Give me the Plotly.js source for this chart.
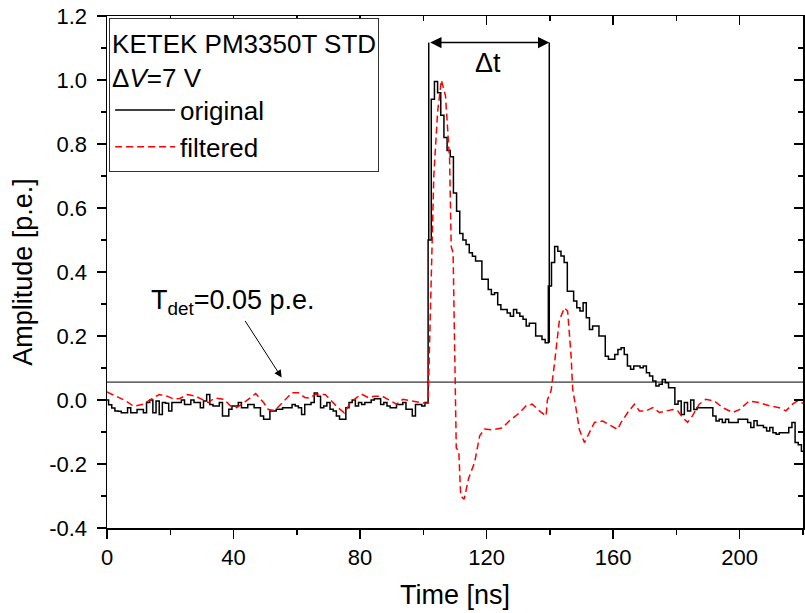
<!DOCTYPE html>
<html>
<head>
<meta charset="utf-8">
<script src="https://cdn.plot.ly/plotly-3.0.1.min.js"></script>
<style>html,body{margin:0;padding:0;background:#fff;}#chart{width:805px;height:613px;}</style>
</head>
<body>
<div id="chart"></div>
<script>
// ---- data ----
// original signal: one sample per ns, starting at 0 ns
const originalStart = 0;
const originalStep = 1;
const originalAmplitude = [
  0.0, -0.015, -0.025, -0.034, -0.035, -0.04, -0.04, -0.024, -0.04, -0.04,
  -0.03, -0.03, -0.04, -0.008, 0.0, -0.04, -0.003, -0.045, -0.008, -0.01,
  -0.034, -0.008, -0.008, -0.008, 0.0, -0.014, -0.014, 0.0, -0.008, -0.008,
  -0.024, -0.003, 0.017, -0.014, -0.019, -0.019, -0.008, -0.05, -0.05, -0.029,
  -0.019, -0.019, -0.008, -0.024, -0.024, -0.014, -0.014, -0.024, -0.024, -0.05,
  -0.06,
  -0.06, -0.034, -0.034, -0.029, -0.029, -0.024, -0.024, -0.024, -0.014, -0.019,
  -0.024, -0.045, -0.014, -0.014, -0.008, 0.022, 0.012, -0.024, -0.019, -0.008,
  -0.029, -0.034, -0.05, -0.06, -0.06, -0.024, -0.008, 0.0, -0.019, -0.008,
  -0.014, -0.008, -0.008, 0.0, 0.004, 0.004, -0.014, -0.008, -0.019, -0.024,
  -0.024, -0.014, -0.014, -0.008, -0.029, -0.029, -0.05, -0.014, -0.014, -0.019,
  -0.008,
  0.50, 0.94, 0.995, 0.96, 0.89, 0.82, 0.78, 0.76,
  0.647, 0.59, 0.52, 0.50, 0.486, 0.46, 0.449, 0.434, 0.434, 0.377,
  0.377, 0.345, 0.33, 0.335, 0.298, 0.283, 0.283, 0.272, 0.262, 0.283,
  0.272, 0.262, 0.252, 0.231, 0.24, 0.24, 0.2, 0.2, 0.189, 0.179,
  0.356, 0.43, 0.48, 0.465, 0.45, 0.43,
  0.34, 0.34, 0.309, 0.288, 0.278, 0.304, 0.257, 0.22, 0.231, 0.231,
  0.2, 0.2, 0.137, 0.127, 0.127, 0.142, 0.158, 0.163, 0.142, 0.106,
  0.096, 0.106, 0.106, 0.101, 0.106, 0.085, 0.075, 0.059, 0.044, 0.049,
  0.064, 0.054, 0.038, 0.038, -0.013, -0.003, -0.045, -0.008, -0.034, 0.0,
  -0.03, -0.024, -0.024, -0.024, -0.024, -0.024, -0.05, -0.066, -0.06, -0.07,
  -0.06, -0.07, -0.07, -0.07, -0.06, -0.06, -0.06, -0.07, -0.086, -0.065,
  -0.08, -0.08, -0.086, -0.097, -0.086, -0.102, -0.107, -0.102, -0.102, -0.102,
  -0.086, -0.07, -0.133, -0.14, -0.16
];

// filtered signal
const filteredTime = [
  0, 3, 6, 8.5, 11.5, 14, 16.5, 19, 21, 23, 25.5, 28, 30, 32, 34, 37, 39, 41, 44, 47,
  49.5, 51, 53, 56, 58.5, 60.5, 62.5, 64, 66, 69, 71, 73, 75, 77, 79, 80.5, 82.5, 84.5, 87, 89.5,
  91.5, 93.5, 96, 98.5, 100.5, 101.5, 102.3, 103.3, 104.5, 105.7, 107, 108.3, 108.8, 109.4,
  110.4, 111.2, 111.8, 112.9, 114.3, 116.2, 117.8, 119.3, 122, 125, 127.2, 130.4, 132.5, 134.4,
  136.7, 138.8, 139.2, 140.4, 141.4, 143, 144.6, 145.6, 146.7, 147.2, 148.3, 149.3, 150.9,
  152.5, 154.1, 156.7, 159.3, 161.4, 162.5, 164.6, 166.7, 168.3, 170.4, 172.5, 174.6, 176.7,
  178.8, 180.4, 182, 183.5, 185.1, 187.2, 189.3, 192, 194.6, 197.8, 199.9, 203, 206.2, 209.3,
  212.5, 214.6, 216.7, 218.3, 220
];
const filteredAmplitude = [
  0.025, 0.01, -0.003, -0.02, -0.013, 0.003, 0.017, 0.012, 0.003, 0.005, 0.017, 0.012, 0.003, -0.008, 0.006, 0.002, -0.018, -0.024, -0.003, 0.02,
  -0.008, -0.03, -0.033, -0.003, 0.023, 0.023, 0.008, 0.006, 0.018, 0.017, -0.003, -0.024, -0.04, -0.008, 0.008, 0.018, 0.008, 0.012, 0.012, -0.003,
  -0.013, 0.002, -0.003, -0.008, -0.01, -0.01, 0.3, 0.7, 0.9, 1.0, 0.95, 0.75, 0.48, 0.46,
  -0.15, -0.16, -0.30, -0.31, -0.245, -0.195, -0.112, -0.091, -0.093, -0.087, -0.065, -0.04, -0.018, -0.013,
  -0.034, -0.05, 0.0, 0.03, 0.11, 0.25, 0.288, 0.278, 0.137, 0.033, -0.029, -0.092, -0.133,
  -0.102, -0.07, -0.066, -0.081, -0.092, -0.07, -0.039, -0.013, -0.034, -0.034, -0.024, -0.039, -0.034,
  -0.03, -0.034, -0.055, -0.07, -0.049, -0.013, 0.002, -0.003, -0.024, -0.039, -0.03, -0.003, -0.008, -0.018,
  -0.024, -0.034, -0.013, -0.003, -0.01
];

const detectionThreshold = 0.056;
const timeRange = [0, 220];
const amplitudeRange = [-0.4, 1.2];
const xTickVals = [0, 40, 80, 120, 160, 200];
const xTickText = ['0', '40', '80', '120', '160', '200'];
const xMinorVals = [20, 60, 100, 140, 180, 220];
const yTickVals = [-0.4, -0.2, 0.0, 0.2, 0.4, 0.6, 0.8, 1.0, 1.2];
const yTickText = ['-0.4', '-0.2', '0.0', '0.2', '0.4', '0.6', '0.8', '1.0', '1.2'];
const yMinorVals = [-0.3, -0.1, 0.1, 0.3, 0.5, 0.7, 0.9, 1.1];

// Δt marker
const dtStart = 101.7;
const dtEnd = 139.8;
const dtLevel = 1.117;
const dtLeftFoot = 0.5;
const dtRightFoot = 0.179;

const originalTime = originalAmplitude.map((_, i) => originalStart + i * originalStep);

const FONT = 'Liberation Sans, Arial, Helvetica, sans-serif';

const traces = [
  {
    x: timeRange, y: [detectionThreshold, detectionThreshold],
    mode: 'lines', line: {color: '#000', width: 1}, showlegend: false, hoverinfo: 'skip'
  },
  {
    x: originalTime, y: originalAmplitude, name: 'original',
    mode: 'lines', line: {color: '#000', width: 1.5, shape: 'hvh'}
  },
  {
    x: filteredTime, y: filteredAmplitude, name: 'filtered',
    mode: 'lines', line: {color: '#ff0000', width: 1.5, dash: '7px,4px'}
  },
  {x: [], y: [], xaxis: 'x2', yaxis: 'y2', showlegend: false, hoverinfo: 'skip'}
];

const axisCommon = {
  showgrid: false, zeroline: false, showline: true, linecolor: '#000', linewidth: 1.5,
  tickcolor: '#000', tickwidth: 1.5, tickfont: {family: FONT, size: 22, color: '#000'}
};

const layout = {
  width: 805, height: 613,
  margin: {l: 107, r: 2, t: 16, b: 85},
  paper_bgcolor: '#fff', plot_bgcolor: '#fff',
  font: {family: FONT, color: '#000'},
  xaxis: Object.assign({}, axisCommon, {
    range: timeRange, tickmode: 'array', tickvals: xTickVals, ticktext: xTickText,
    ticks: 'outside', ticklen: 9, mirror: true,
    minor: {tickmode: 'array', tickvals: xMinorVals, ticks: 'outside', ticklen: 5, tickwidth: 1.5, tickcolor: '#000'},
    title: {text: 'Time [ns]', font: {family: FONT, size: 27, color: '#000'}, standoff: 16}
  }),
  yaxis: Object.assign({}, axisCommon, {
    range: amplitudeRange, tickmode: 'array', tickvals: yTickVals, ticktext: yTickText,
    ticks: 'outside', ticklen: 9, mirror: true, ticklabelstandoff: 5,
    minor: {tickmode: 'array', tickvals: yMinorVals, ticks: 'outside', ticklen: 5, tickwidth: 1.5, tickcolor: '#000'},
    title: {text: 'Amplitude [p.e.]', font: {family: FONT, size: 27, color: '#000'}, standoff: 8}
  }),
  xaxis2: {
    overlaying: 'x', side: 'top', anchor: 'y', range: timeRange,
    showgrid: false, zeroline: false, showline: false, showticklabels: false,
    tickmode: 'array', tickvals: xTickVals, ticks: 'inside', ticklen: 9, tickwidth: 1.5, tickcolor: '#000',
    minor: {tickmode: 'array', tickvals: xMinorVals, ticks: 'inside', ticklen: 5, tickwidth: 1.5, tickcolor: '#000'}
  },
  yaxis2: {
    overlaying: 'y', side: 'right', anchor: 'x', range: amplitudeRange,
    showgrid: false, zeroline: false, showline: false, showticklabels: false,
    tickmode: 'array', tickvals: yTickVals, ticks: 'inside', ticklen: 9, tickwidth: 1.5, tickcolor: '#000',
    minor: {tickmode: 'array', tickvals: yMinorVals, ticks: 'inside', ticklen: 5, tickwidth: 1.5, tickcolor: '#000'}
  },
  showlegend: true,
  legend: {
    x: 0.003, y: 0.996, xanchor: 'left', yanchor: 'top',
    bgcolor: '#fff', bordercolor: '#333', borderwidth: 1,
    font: {family: FONT, size: 26, color: '#000'},
    title: {text: 'KETEK PM3350T STD<br>Δ<i>V</i>=7 V', font: {family: FONT, size: 26, color: '#000'}},
    itemwidth: 60, tracegroupgap: 0
  },
  shapes: [
    {type: 'line', xref: 'x', yref: 'y', x0: dtStart, x1: dtStart, y0: dtLevel, y1: dtLeftFoot, line: {color: '#000', width: 1.5}},
    {type: 'line', xref: 'x', yref: 'y', x0: dtEnd, x1: dtEnd, y0: dtLevel, y1: dtRightFoot, line: {color: '#000', width: 1.5}}
  ],
  annotations: [
    {
      xref: 'x', yref: 'y', axref: 'x', ayref: 'y',
      x: dtEnd, y: dtLevel, ax: dtStart, ay: dtLevel,
      text: '', showarrow: true, arrowside: 'end+start', arrowhead: 2, arrowsize: 1.5, arrowwidth: 1.5, arrowcolor: '#000',
      standoff: 0, startstandoff: 0
    },
    {
      xref: 'x', yref: 'y', x: 120.3, y: 1.052, text: 'Δt', showarrow: false,
      font: {family: FONT, size: 27, color: '#000'}
    },
    {
      xref: 'x', yref: 'y', axref: 'x', ayref: 'y',
      x: 55.2, y: 0.07, ax: 39.9, ay: 0.305,
      text: 'T<sub>det</sub>=0.05 p.e.', showarrow: true, arrowhead: 2, arrowsize: 1.5, arrowwidth: 1, arrowcolor: '#000',
      font: {family: FONT, size: 27, color: '#000'}
    }
  ]
};

Plotly.newPlot('chart', traces, layout, {displayModeBar: false, staticPlot: true});
</script>
</body>
</html>
